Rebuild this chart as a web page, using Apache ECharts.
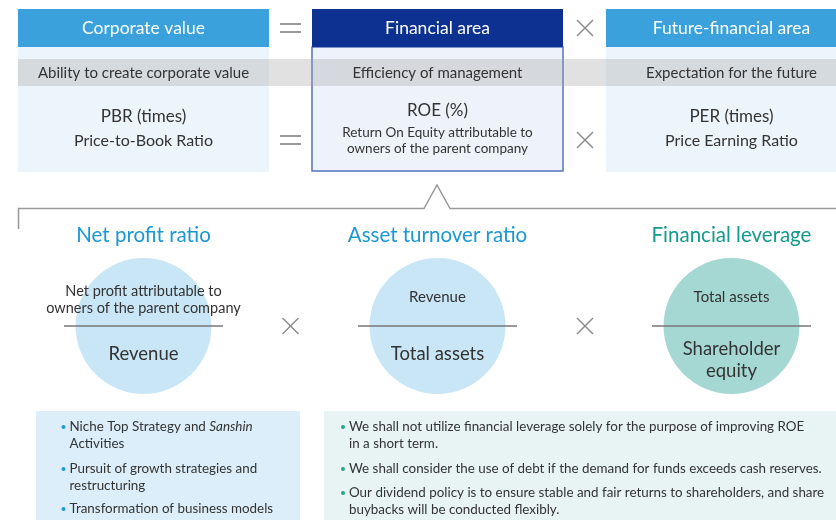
<!DOCTYPE html>
<html>
<head>
<meta charset="utf-8">
<script src="https://cdn.jsdelivr.net/npm/echarts@6/dist/echarts.min.js"></script>
<style>
  html, body { margin: 0; padding: 0; background: #fff; }
  #main { width: 836px; height: 520px; }
</style>
</head>
<body>
<div id="main"></div>
<script>
// labels of the diagram
const headers = ['Corporate value', 'Financial area', 'Future-financial area']
const roles = ['Ability to create corporate value', 'Efficiency of management', 'Expectation for the future']
const metrics = ['PBR (times)', 'ROE (%)', 'PER (times)']
const metricNotes = [
  ['Price-to-Book Ratio'],
  ['Return On Equity attributable to', 'owners of the parent company'],
  ['Price Earning Ratio']
]
const operators = ['=', '×']
const factors = ['Net profit ratio', 'Asset turnover ratio', 'Financial leverage']
const numerators = [['Net profit attributable to', 'owners of the parent company'], ['Revenue'], ['Total assets']]
const denominators = [['Revenue'], ['Total assets'], ['Shareholder', 'equity']]
const leftPoints = [
  ['Niche Top Strategy and ', 'Sanshin', 'Activities'],
  ['Pursuit of growth strategies and', 'restructuring'],
  ['Transformation of business models']
]
const rightPoints = [
  ['We shall not utilize financial leverage solely for the purpose of improving ROE', 'in a short term.'],
  ['We shall consider the use of debt if the demand for funds exceeds cash reserves.'],
  ['Our dividend policy is to ensure stable and fair returns to shareholders, and share', 'buybacks will be conducted flexibly.']
]

const font = 'Lato, "Noto Sans", sans-serif'
const textColor = '#333'
const colX = [143.5, 437.5, 731.5]
const g = []

function text(x, y, s, size, color, extra) {
  g.push({
    type: 'text',
    style: Object.assign({
      x: x, y: y, text: s, fontSize: size, fontFamily: font,
      fill: color || textColor, textAlign: 'center', textVerticalAlign: 'middle'
    }, extra || {})
  })
}

function eq(cx, cy) {
  [-4, 4].forEach(function (d) {
    g.push({ type: 'line', shape: { x1: cx - 10.5, y1: cy + d, x2: cx + 10.5, y2: cy + d }, style: { stroke: '#9a9a9a', lineWidth: 2 } })
  })
}
function times(cx, cy) {
  g.push({ type: 'line', shape: { x1: cx - 8, y1: cy - 8, x2: cx + 8, y2: cy + 8 }, style: { stroke: '#8a8a8a', lineWidth: 1.5 } })
  g.push({ type: 'line', shape: { x1: cx - 8, y1: cy + 8, x2: cx + 8, y2: cy - 8 }, style: { stroke: '#8a8a8a', lineWidth: 1.5 } })
}
function op(sym, cx, cy) { if (sym === '=') eq(cx, cy); else times(cx, cy) }

// top boxes
const boxX = [18, 312, 606]
const boxW = [251, 251, 251]
headers.forEach(function (h, i) {
  const navy = i === 1
  g.push({ type: 'rect', shape: { x: boxX[i], y: 47, width: boxW[i], height: navy ? 124 : 125 },
    style: { fill: navy ? '#eef2fa' : '#edf5fc', stroke: navy ? '#5572c2' : null, lineWidth: navy ? 1.5 : 0 } })
  g.push({ type: 'rect', shape: { x: boxX[i], y: 9, width: boxW[i], height: 38 },
    style: { fill: navy ? '#0c3190' : '#3aa1dc' } })
  text(colX[i], 28, h, 17.5, '#fff')
})
// gray band
g.push({ type: 'rect', shape: { x: 18, y: 59, width: 818, height: 27 }, style: { fill: 'rgba(165,165,165,0.33)' } })
roles.forEach(function (r, i) { text(colX[i], 73, r, 15) })

metrics.forEach(function (m, i) {
  if (i === 1) {
    text(colX[i], 111, m, 17)
    metricNotes[i].forEach(function (n, k) { text(colX[i], 133 + k * 16, n, 13.5) })
  } else {
    text(colX[i], 117, m, 17)
    text(colX[i], 141, metricNotes[i][0], 16)
  }
})
op(operators[0], 290.5, 28); op(operators[0], 290.5, 140)
op(operators[1], 585, 28); op(operators[1], 585, 140)

// bracket with pointer
g.push({ type: 'polyline', shape: { points: [[18.5, 229], [18.5, 208.5], [424, 208.5], [437, 185], [450, 208.5], [836, 208.5]] },
  style: { stroke: '#999', lineWidth: 1.5, fill: null } })

// factor titles and circles
const titleColors = ['#1a97d5', '#1a97d5', '#149a8b']
const circleColors = ['#c9e6f7', '#c9e6f7', '#a6d8d3']
factors.forEach(function (f, i) {
  text(colX[i], 235, f, 20.5, titleColors[i])
  g.push({ type: 'circle', shape: { cx: colX[i], cy: 326, r: 68 }, style: { fill: circleColors[i] } })
})
factors.forEach(function (f, i) {
  const nums = numerators[i]
  if (nums.length === 2) {
    text(colX[i], 291, nums[0], 14.5)
    text(colX[i], 308, nums[1], 14.5)
  } else {
    text(colX[i], 297, nums[0], 15)
  }
  g.push({ type: 'line', shape: { x1: colX[i] - 79.5, y1: 326, x2: colX[i] + 79.5, y2: 326 }, style: { stroke: '#777', lineWidth: 1.5 } })
  const dens = denominators[i]
  if (dens.length === 2) {
    text(colX[i], 349, dens[0], 18.5)
    text(colX[i], 371, dens[1], 18.5)
  } else {
    text(colX[i], 354, dens[0], 18.5)
  }
})
op(operators[1], 290.5, 326); op(operators[1], 585, 326)

// bottom boxes
g.push({ type: 'rect', shape: { x: 36, y: 411, width: 264, height: 109 }, style: { fill: '#dceef9' } })
g.push({ type: 'rect', shape: { x: 324, y: 411, width: 512, height: 109 }, style: { fill: '#e8f4f4' } })

const bulletSize = 13.4
function bullets(list, tx, ys, dotColor) {
  let row = 0
  list.forEach(function (item) {
    g.push({ type: 'circle', shape: { cx: tx - 6, cy: ys[row], r: 2 }, style: { fill: dotColor } })
    if (item.length === 3) {
      g.push({ type: 'text', style: {
        x: tx, y: ys[row], textVerticalAlign: 'middle', fontFamily: font, fontSize: bulletSize, fill: textColor,
        text: '{n|' + item[0] + '}{i|' + item[1] + '}',
        rich: {
          n: { fontSize: bulletSize, fontFamily: font, fill: textColor },
          i: { fontSize: bulletSize, fontFamily: font, fontStyle: 'italic', fill: textColor }
        }
      } })
      row++
      text(tx, ys[row], item[2], bulletSize, textColor, { textAlign: 'left' })
      row++
    } else {
      item.forEach(function (line) {
        text(tx, ys[row], line, bulletSize, textColor, { textAlign: 'left' })
        row++
      })
    }
  })
}
bullets(leftPoints, 69.5, [427, 444, 469, 486, 509], '#1f9ad6')
bullets(rightPoints, 349, [427, 444, 469, 493, 510], '#2aa58d')

const chart = echarts.init(document.getElementById('main'), null, { renderer: 'canvas' })
chart.setOption({ animation: false, graphic: { elements: g } })
</script>
</body>
</html>
